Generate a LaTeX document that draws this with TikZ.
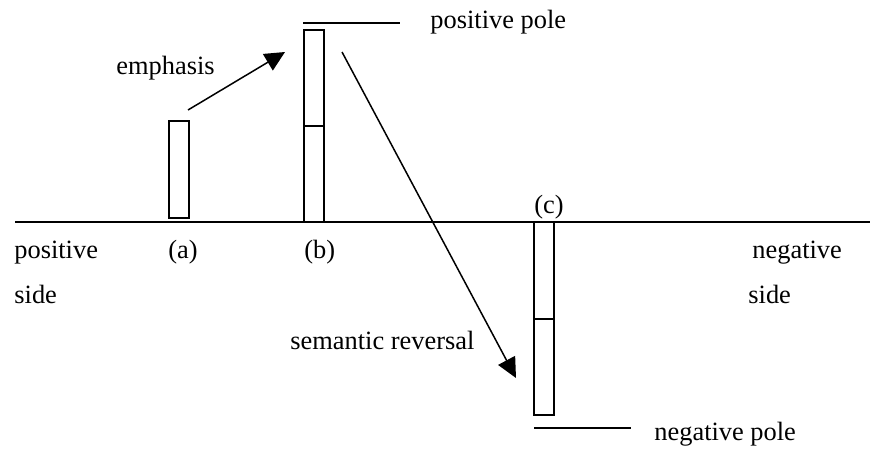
\documentclass[tikz,border=0pt]{standalone}
\usepackage{fontspec}
\setmainfont{Liberation Serif}
\usetikzlibrary{arrows.meta,positioning}
\tikzset{
  bar/.style={rectangle, draw, line width=1pt, minimum width=10pt,
              inner sep=0pt, outer sep=0pt},
  axisline/.style={line width=0.9pt},
  poleline/.style={line width=1pt},
  shiftarrow/.style={line width=0.75pt, -{Triangle[length=10pt,width=9.5pt]}},
  txt/.style={font=\fontsize{13.2}{16}\selectfont, inner sep=0pt, anchor=base west},
}
\begin{document}
\begin{tikzpicture}[x=0.5pt, y=-0.5pt]
\useasboundingbox (0,0) rectangle (870,450);
\draw[axisline] (15,222) -- (870,222);
% bars
\node[bar, minimum height=48.5pt, anchor=south] (bara) at (179,218) {};
\node[bar, minimum height=96pt, anchor=south] (barb) at (313.5,222) {};
\node[bar, minimum height=96.5pt, anchor=north] (barc) at (544,222) {};
\draw[poleline] (barb.west) -- (barb.east);
\draw[poleline] (barc.west) -- (barc.east);
% poles
\draw[poleline] (303,23) -- (400,23);
\draw[poleline] (534,428) -- (631,428);
\node[txt] (pospole) at (430,28) {positive pole};
\node[txt] (negpole) at (654,440) {negative pole};
% labels
\node[txt] (laba) at (168,258) {(a)};
\node[txt] (labb) at (304,258) {(b)};
\node[txt] (labc) at (534,213) {(c)};
\node[txt] (posside) at (14,258) {positive};
\node[txt] (posside2) at (14,303) {side};
\node[txt] (negside) at (752,258) {negative};
\node[txt] (negside2) at (748,303) {side};
% arrows
\coordinate (emfrom) at (188,110);
\coordinate (emto) at (285,52);
\coordinate (revfrom) at (342,52);
\coordinate (revto) at (516,378);
\draw[shiftarrow] (emfrom) -- (emto);
\draw[shiftarrow] (revfrom) -- (revto);
\node[txt] (emph) at (116,74) {emphasis};
\node[txt] (reversal) at (290,349) {semantic reversal};
\end{tikzpicture}
\end{document}
